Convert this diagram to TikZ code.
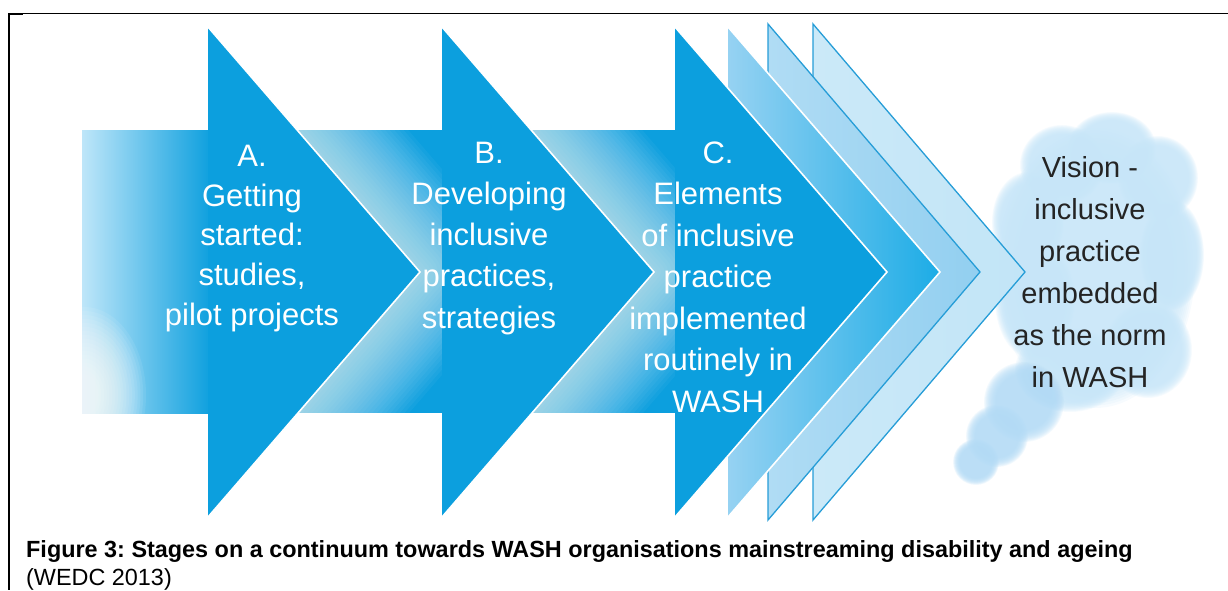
\documentclass[tikz,border=0pt]{standalone}
\usepackage{fontspec}
\setmainfont{Liberation Sans}
\frenchspacing

\definecolor{headblue}{RGB}{12,159,222}
\definecolor{bodylight}{RGB}{190,230,249}
\definecolor{bodymid}{RGB}{80,189,236}
\definecolor{chevonelight}{RGB}{150,210,242}
\definecolor{chevonemid}{RGB}{58,182,234}
\definecolor{chevonedark}{RGB}{28,172,230}
\definecolor{chevtwolight}{RGB}{176,220,244}
\definecolor{chevtwodark}{RGB}{146,207,240}
\definecolor{chevthreelight}{RGB}{203,233,248}
\definecolor{chevthreedark}{RGB}{194,229,247}
\definecolor{chevline}{RGB}{38,157,215}
\definecolor{cloudblue}{RGB}{198,229,248}
\definecolor{puffblue}{RGB}{178,218,245}
\definecolor{visiongray}{RGB}{36,36,36}

\tikzset{
  headfill/.style={fill=headblue},
  seam/.style={draw=white, line width=1.6pt, line join=miter},
  glow/.style={draw=white, opacity=0.04, line join=round},
  chevedge/.style={draw=chevline, line width=1.3pt, line join=miter},
  stagetext/.style={text=white, align=center, inner sep=0pt, anchor=base},
  soft/.style={opacity=0.14},
  captext/.style={anchor=base west, inner sep=0pt, text=black}
}

\begin{document}
\begin{tikzpicture}[x=1pt,y=-1pt]
\useasboundingbox (0,0) rectangle (1228,590);

% frame lines
\draw[line width=1.1pt] (8,13.4) -- (1228,13.4);
\draw[line width=2pt] (9,13) -- (9,590);
\draw[line width=2pt] (8,14.2) -- (23,14.2);

% the vision cloud: each blob is a stack of faint, shrinking ellipses
\foreach \cx/\cy/\rx/\ry in {1095/268/100/140, 1062/165/42/40, 1112/148/44/36,
    1158/178/40/42, 1028/222/36/50, 1172/255/32/55, 1148/350/44/48,
    1070/370/55/42, 1035/300/40/60}
  \foreach \k in {0,...,13}
    \fill[cloudblue, soft] (\cx,\cy) ellipse ({(1-0.018*\k)*\rx} and {(1-0.018*\k)*\ry});
\foreach \cx/\cy/\r in {1024/402/40, 997/436/31, 976/462/23}
  \foreach \k in {0,...,13}
    \fill[puffblue, soft] (\cx,\cy) circle ({(1-0.022*\k)*\r});

% outer chevrons
\shade[left color=chevthreelight, right color=chevthreedark]
  (813,24) -- (1025,272) -- (813,520) -- cycle;
\draw[chevedge] (813,24) -- (1025,272) -- (813,520) -- cycle;
\shade[left color=chevtwolight, right color=chevtwodark]
  (768,24) -- (980,272) -- (768,520) -- cycle;
\draw[chevedge] (768,24) -- (980,272) -- (768,520) -- cycle;
\shade[left color=chevonelight, middle color=chevonemid, right color=chevonedark]
  (728,27) -- (940,272) -- (728,517) -- cycle;
\draw[seam] (728,27) -- (940,272) -- (728,517);

% stage C
\begin{scope}
  \clip (442,130) rectangle (675,413);
  \fill[headblue] (442,130) rectangle (675,413);
  \foreach \w in {7,14,...,168}
    \draw[glow, line width=\w pt] (442,27) -- (654,272) -- (442,517);
\end{scope}
\fill[headfill] (675,27) -- (887,272) -- (675,517) -- cycle;
\draw[seam] (675,27) -- (887,272) -- (675,517);

% stage B
\begin{scope}
  \clip (208,130) rectangle (442,413);
  \fill[headblue] (208,130) rectangle (442,413);
  \foreach \w in {7,14,...,168}
    \draw[glow, line width=\w pt] (208,27) -- (420,272) -- (208,517);
\end{scope}
\fill[headfill] (442,27) -- (654,272) -- (442,517) -- cycle;
\draw[seam] (442,27) -- (654,272) -- (442,517);

% stage A
\begin{scope}
  \clip (82,130) rectangle (208,413);
  \shade[left color=bodylight, middle color=bodymid, right color=headblue]
    (82,130) rectangle (212,413);
  \foreach \k in {0,...,17}
    \fill[white, opacity=0.08] (84,395) ellipse ({(1-0.045*\k)*62} and {(1-0.045*\k)*88});
\end{scope}
\fill[headfill] (208,27) -- (420,272) -- (208,517) -- cycle;
\draw[seam] (208,27) -- (420,272) -- (208,517);

% stage labels (anchored at the baseline of the last line)
\node[stagetext, font=\fontsize{31}{39.6}\selectfont] (stageA) at (252,325)
  {A.\\Getting\\started:\\studies,\\pilot projects};
\node[stagetext, font=\fontsize{31}{41.2}\selectfont] (stageB) at (489,328)
  {B.\\Developing\\inclusive\\practices,\\strategies};
\node[stagetext, font=\fontsize{31}{41.5}\selectfont] (stageC) at (718,412)
  {C.\\Elements\\of inclusive\\practice\\implemented\\routinely in\\WASH};
\node[stagetext, text=visiongray, font=\fontsize{29}{42}\selectfont] (vision) at (1090,387)
  {Vision -\\inclusive\\practice\\embedded\\as the norm\\in WASH};

% caption
\node[captext, font=\fontsize{23.4}{28}\selectfont\bfseries] (caption) at (26,557)
  {Figure 3: Stages on a continuum towards WASH organisations mainstreaming disability and ageing};
\node[captext, font=\fontsize{23.4}{28}\selectfont] (source) at (26,585)
  {(WEDC 2013)};
\end{tikzpicture}
\end{document}
